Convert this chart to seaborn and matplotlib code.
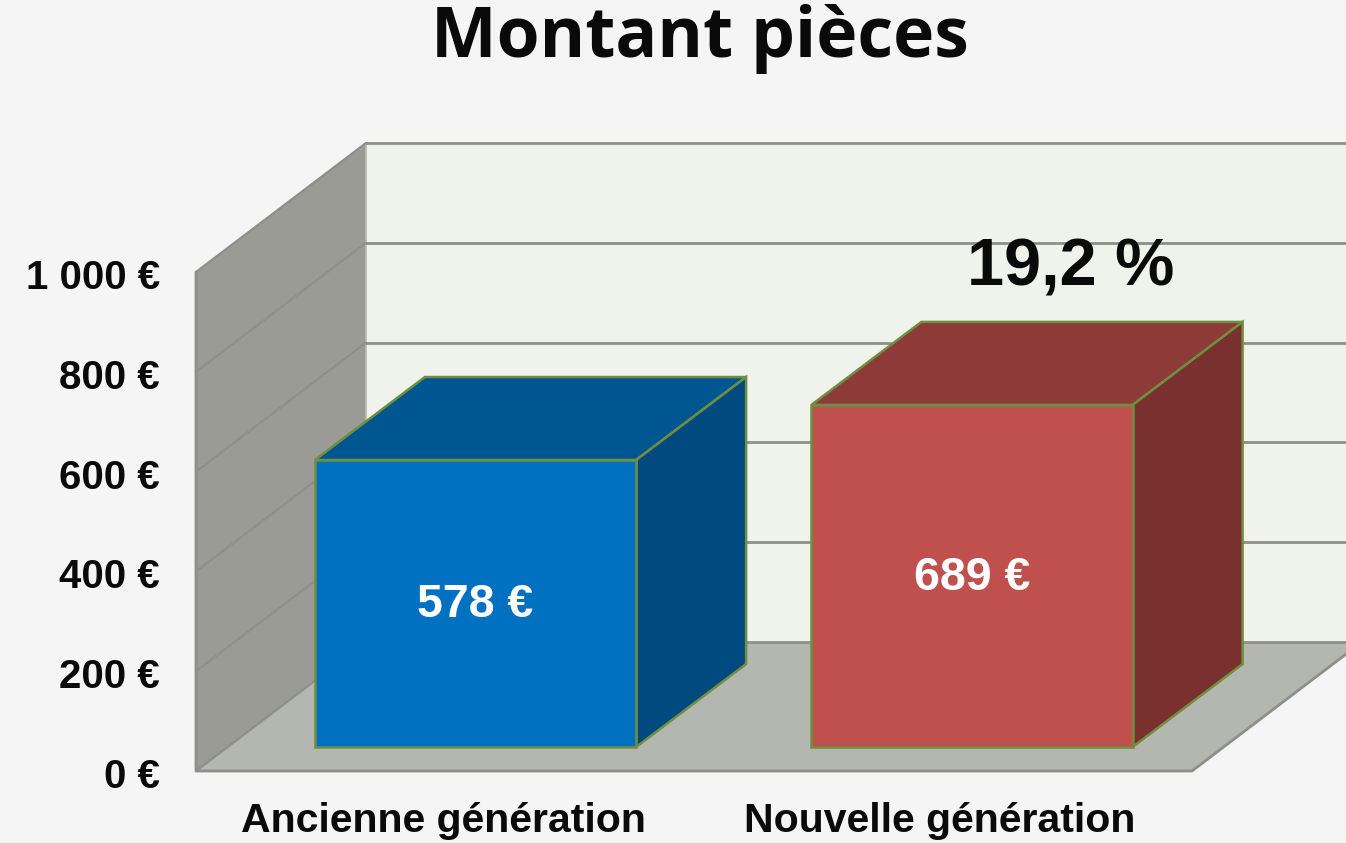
import matplotlib
matplotlib.use('Agg')
import matplotlib.pyplot as plt
from matplotlib.patches import Polygon
import seaborn as sns

categories = ['Ancienne génération', 'Nouvelle génération']
values = [578, 689]
value_labels = ['578 €', '689 €']
tick_values = [0, 200, 400, 600, 800, 1000]
tick_labels = ['0 €', '200 €', '400 €', '600 €', '800 €', '1 000 €']
title = 'Montant pièces'
delta_label = '19,2 %'

bg = '#f5f5f5'
front_cols = ['#0070c0', '#c0504d']
top_cols = ['#005691', '#8e3a38']
side_cols = ['#004a80', '#7a302e']
edge_col = '#6f8f3f'
grid_col = '#8e8e8a'

# pixel scales of the picture
w, h = 1346, 843
x_unit = 496.5
y_unit = 0.4965
x0_px, y0_px = 475.5, 747

def d(px, py):
    return (px - x0_px) / x_unit, (y0_px - py) / y_unit

def wall_y(v):
    return 771 - v * 0.499

sns.set_style('white')
plt.rcParams['font.family'] = ['Liberation Sans', 'DejaVu Sans']

fig = plt.figure(figsize=(w / 100, h / 100), dpi=100, facecolor=bg)
ax = fig.add_axes([0, 0, 1, 1])

sns.barplot(x=categories, y=values, hue=categories, palette=front_cols, saturation=1,
            width=0.647, edgecolor=edge_col, linewidth=1.8, legend=False, ax=ax, zorder=5)
bars = list(ax.patches)

ax.set_xlim(d(0, 0)[0], d(w, 0)[0])
ax.set_ylim(d(0, h)[1], d(0, 0)[1])
ax.axis('off')

# walls and floor
wx0, wx1, fx1 = 196, 366, 1192
dy = 129
back_top = wall_y(tick_values[-1]) - dy
back_bot = wall_y(0) - dy
ax.add_patch(Polygon([d(wx1, back_top), d(w + 20, back_top), d(w + 20, back_bot), d(wx1, back_bot)],
                     facecolor='#f0f2ec', edgecolor='none', zorder=0))
ax.add_patch(Polygon([d(wx0, wall_y(0)), d(wx0, wall_y(1000)), d(wx1, back_top), d(wx1, back_bot)],
                     facecolor='#999b94', edgecolor='none', zorder=0.5))
ax.add_patch(Polygon([d(wx0, wall_y(0)), d(fx1, wall_y(0)), d(fx1 + wx1 - wx0, back_bot), d(wx1, back_bot)],
                     facecolor='#b4b6b0', edgecolor='none', zorder=0.6))

for v in tick_values:
    p0, p1, p2 = d(wx0, wall_y(v)), d(wx1, wall_y(v) - dy), d(w + 20, wall_y(v) - dy)
    ax.plot([p0[0], p1[0]], [p0[1], p1[1]], color=grid_col, lw=1.6, zorder=1)
    ax.plot([p1[0], p2[0]], [p1[1], p2[1]], color=grid_col, lw=2, zorder=1)
# floor outline
pts = [d(wx0, wall_y(1000)), d(wx0, wall_y(0)), d(fx1, wall_y(0)), d(fx1 + wx1 - wx0, back_bot)]
ax.plot([p[0] for p in pts], [p[1] for p in pts], color=grid_col, lw=2, zorder=1)
p0, p1 = d(wx1, back_top), d(wx1, back_bot)
ax.plot([p0[0], p1[0]], [p0[1], p1[1]], color='#b9bab4', lw=1.2, zorder=0.7)

# depth of the boxes
depth_x = 110 / x_unit
depth_y = 83 / y_unit
for i, bar in enumerate(bars):
    x1, x2 = bar.get_x(), bar.get_x() + bar.get_width()
    top = bar.get_height()
    ax.add_patch(Polygon([(x1, top), (x2, top), (x2 + depth_x, top + depth_y), (x1 + depth_x, top + depth_y)],
                         facecolor=top_cols[i], edgecolor=edge_col, lw=1.8, zorder=4))
    ax.add_patch(Polygon([(x2, 0), (x2, top), (x2 + depth_x, top + depth_y), (x2 + depth_x, depth_y)],
                         facecolor=side_cols[i], edgecolor=edge_col, lw=1.8, zorder=4))
    ax.text((x1 + x2) / 2, d(0, 605 if i == 0 else 578)[1], value_labels[i], color='white',
            fontsize=33.5, fontweight='bold', ha='center', va='center', zorder=6)

for v, lab in zip(tick_values, tick_labels):
    ax.text(d(160, 0)[0], d(0, wall_y(v) + 6)[1], lab, color='#0a0a0a', fontsize=29,
            fontweight='bold', ha='right', va='center')

for i, cat in enumerate(categories):
    ax.text(i + d(443.5, 0)[0], d(0, 821)[1], cat, color='#0a0a0a', fontsize=29.5,
            fontweight='bold', ha='center', va='center')

ax.text(d(1071, 0)[0], d(0, 269)[1], delta_label, color='#0a0a0a', fontsize=48,
        fontweight='bold', ha='center', va='center')
ax.text(d(700, 0)[0], d(0, 39)[1], title, color='#0a0a0a', fontsize=50, fontweight='bold',
        family=['Open Sans', 'DejaVu Sans'], ha='center', va='center')

fig.savefig('out.png', dpi=100, facecolor=bg)
